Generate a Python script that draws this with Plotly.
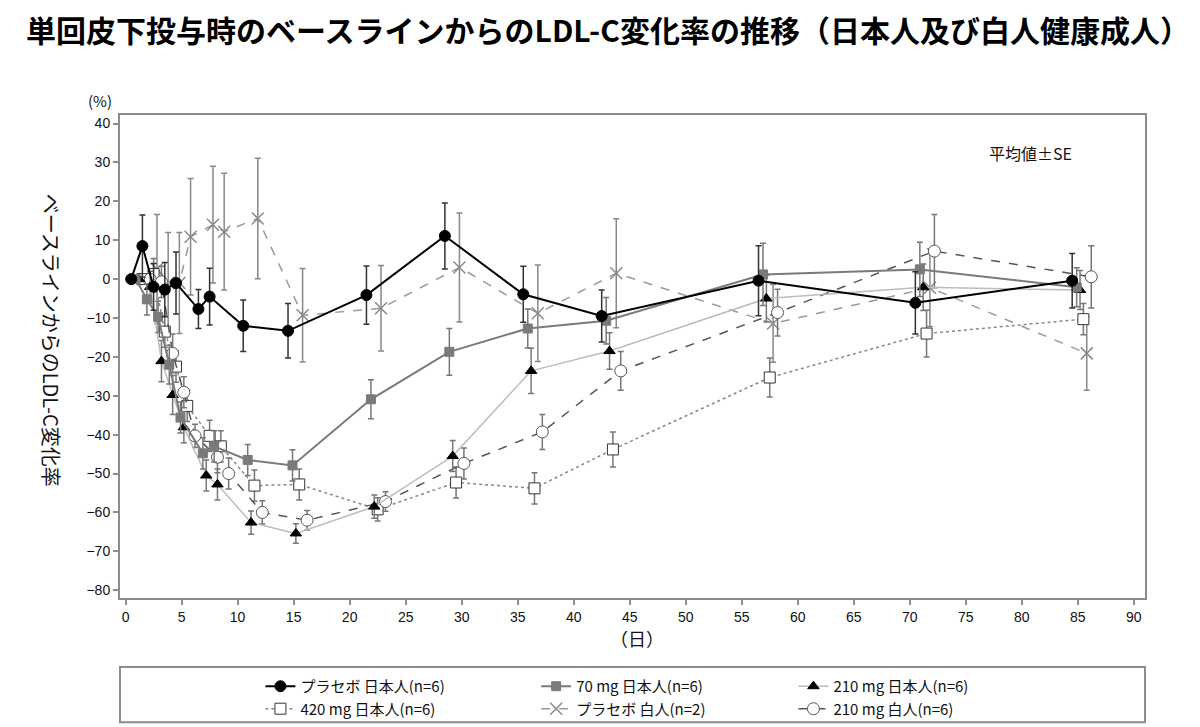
import plotly.graph_objects as go

# ── Data ──────────────────────────────────────────────────────────────────
days = [1, 2, 3, 4, 5, 7, 8, 11, 15, 22, 29, 36, 43, 57, 71, 85]

placebo_jp = [0, 8.5, -2.0, -2.7, -1.0, -7.7, -4.5, -12.0, -13.3, -4.1, 11.1, -3.9, -9.5, -0.4, -6.1, -0.4]
placebo_jp_se = [0, 8, 6, 7, 8, 5, 7.3, 6.6, 7, 7.5, 8.5, 7.2, 6.7, 9, 8, 7]

mg70_jp = [0, -5.2, -9.7, -22.0, -35.6, -44.8, -43.0, -46.5, -47.9, -30.9, -18.7, -12.7, -10.7, 1.2, 2.5, -2.1]
mg70_jp_se = [0, 4, 4, 5, 4, 4, 4, 4, 4, 5, 6, 5, 6, 8, 7, 5]

mg210_jp = [0, -2.0, -21.1, -29.8, -38.1, -50.5, -52.8, -62.6, -65.4, -58.5, -45.5, -23.6, -18.5, -5.0, -2.1, -2.8]
mg210_jp_se = [0, 4, 5.3, 5, 4, 4, 4, 3, 2.5, 3, 4, 5.8, 4.7, 6, 6, 5]

mg420_jp = [0, 1.3, -13.5, -22.5, -32.6, -40.3, -43.0, -53.1, -52.8, -59.2, -52.3, -53.8, -43.8, -25.3, -14.0, -10.3]
mg420_jp_se = [0, 4, 4, 4, 4, 4, 4, 4, 4, 3, 4, 4, 4.5, 5, 6, 4]

placebo_wh = [0, 2.6, -1.0, -1.0, 10.9, 14.0, 12.2, 15.6, -9.3, -7.5, 3.0, -8.8, 1.5, -11.4, -2.2, -19.1]
placebo_wh_se = [0, 14, 13, 13, 15, 15, 15, 15.5, 12, 11, 14, 12.4, 14, 10, 10, 9.5]

mg210_wh = [0, -0.7, -19.1, -29.1, -40.3, -45.8, -50.0, -60.0, -62.0, -57.2, -47.4, -39.3, -23.6, -8.6, 7.2, 0.6]
mg210_wh_se = [0, 4, 5, 4, 3, 4, 4, 3, 2.5, 2.5, 4, 4.5, 5, 6, 9.4, 8]

x_ticks = list(range(0, 91, 5))
y_ticks = list(range(-80, 41, 10))

FONT = "Noto Sans CJK JP"

# name, values, se, day offset, marker, line, error colour, legend
series = [
    ("プラセボ 日本人(n=6)", placebo_jp, placebo_jp_se, -0.5,
     dict(symbol="circle", size=11, color="#000000", line=dict(color="#000000", width=1)),
     dict(color="#000000", width=2), "#333333", "legend"),
    ("420 mg 日本人(n=6)", mg420_jp, mg420_jp_se, 0.5,
     dict(symbol="square", size=11, color="#ffffff", line=dict(color="#333333", width=1)),
     dict(color="#888888", width=1.5, dash="dot"), "#777777", "legend"),
    ("70 mg 日本人(n=6)", mg70_jp, mg70_jp_se, -0.1,
     dict(symbol="square", size=9, color="#7a7a7a", line=dict(color="#7a7a7a", width=1)),
     dict(color="#7a7a7a", width=2), "#777777", "legend2"),
    ("プラセボ 白人(n=2)", placebo_wh, placebo_wh_se, 0.8,
     dict(symbol="x-thin-open", size=12, color="#8a8a8a", line=dict(color="#8a8a8a", width=1.5)),
     dict(color="#9a9a9a", width=1.5, dash="dash"), "#888888", "legend2"),
    ("210 mg 日本人(n=6)", mg210_jp, mg210_jp_se, 0.2,
     dict(symbol="triangle-up", size=10, color="#000000", line=dict(color="#000000", width=1)),
     dict(color="#bdbdbd", width=1.5), "#777777", "legend3"),
    ("210 mg 白人(n=6)", mg210_wh, mg210_wh_se, 1.2,
     dict(symbol="circle", size=12, color="#ffffff", line=dict(color="#555555", width=1)),
     dict(color="#555555", width=1.5, dash="dash"), "#777777", "legend3"),
]

fig = go.Figure()

# draw lighter series first so the black placebo line sits on top
draw_order = [3, 1, 5, 4, 2, 0]
for i in draw_order:
    name, vals, se, off, marker, line, ecol, leg = series[i]
    fig.add_trace(go.Scatter(
        x=[d + off for d in days],
        y=vals,
        mode="lines+markers",
        name=name,
        marker=marker,
        line=line,
        error_y=dict(type="data", array=se, visible=True, color=ecol,
                     thickness=1.5, width=3),
        legend=leg,
        legendrank=i,
    ))

# ── Layout ────────────────────────────────────────────────────────────────
# page body has an 8px margin, so the margins below are shifted by 8px
axis_common = dict(
    showline=True, linecolor="#8c8c8c", linewidth=2, mirror=True,
    showgrid=False, zeroline=False,
    ticks="outside", ticklen=5, tickcolor="#8c8c8c", tickwidth=1.5,
    tickfont=dict(family="Liberation Sans", size=14, color="#111111"),
)

legend_common = dict(
    orientation="v", yanchor="top", y=-0.149, xanchor="left",
    bgcolor="rgba(0,0,0,0)", borderwidth=0, tracegroupgap=0,
    font=dict(family=FONT, size=15, color="#111111"),
    itemclick=False, traceorder="normal",
)

fig.update_layout(
    width=1200, height=727,
    margin=dict(l=112, r=63, t=107, b=137, autoexpand=False),
    paper_bgcolor="#ffffff", plot_bgcolor="#ffffff",
    font=dict(family=FONT, color="#111111"),
    title=dict(
        text="<b>単回皮下投与時のベースラインからのLDL-C変化率の推移（日本人及び白人健康成人）</b>",
        x=0.5, xanchor="center", y=0.968, yanchor="middle",
        font=dict(family=FONT, size=30, color="#000000"),
    ),
    xaxis=dict(range=[-0.5, 91], tickvals=x_ticks, automargin=False, **axis_common),
    yaxis=dict(range=[-82, 42.2], tickvals=y_ticks, automargin=False, **axis_common),
    legend=dict(x=0.137, **legend_common),
    legend2=dict(x=0.406, **legend_common),
    legend3=dict(x=0.657, **legend_common),
    showlegend=True,
)

# legend frame
fig.add_shape(type="rect", xref="paper", yref="paper",
              x0=0.0, x1=1.0, y0=-0.257, y1=-0.143,
              line=dict(color="#8c8c8c", width=2), fillcolor="rgba(0,0,0,0)")

fig.add_annotation(text="(%)", xref="paper", yref="paper", x=-0.0195, y=1.029,
                   xanchor="center", yanchor="middle",
                   showarrow=False, font=dict(family=FONT, size=15))
fig.add_annotation(text="平均値±SE", xref="paper", yref="paper", x=0.888, y=0.921,
                   xanchor="center", yanchor="middle",
                   showarrow=False, font=dict(family=FONT, size=16))
fig.add_annotation(text="ベースラインからのLDL-C変化率", xref="paper", yref="paper",
                   x=-0.066, y=0.534, xanchor="center", yanchor="middle",
                   textangle=90, showarrow=False,
                   font=dict(family=FONT, size=20))
fig.add_annotation(text="（日）", xref="paper", yref="paper", x=0.504, y=-0.083,
                   xanchor="center", yanchor="middle",
                   showarrow=False, font=dict(family=FONT, size=18))

fig.write_html("out.html")
